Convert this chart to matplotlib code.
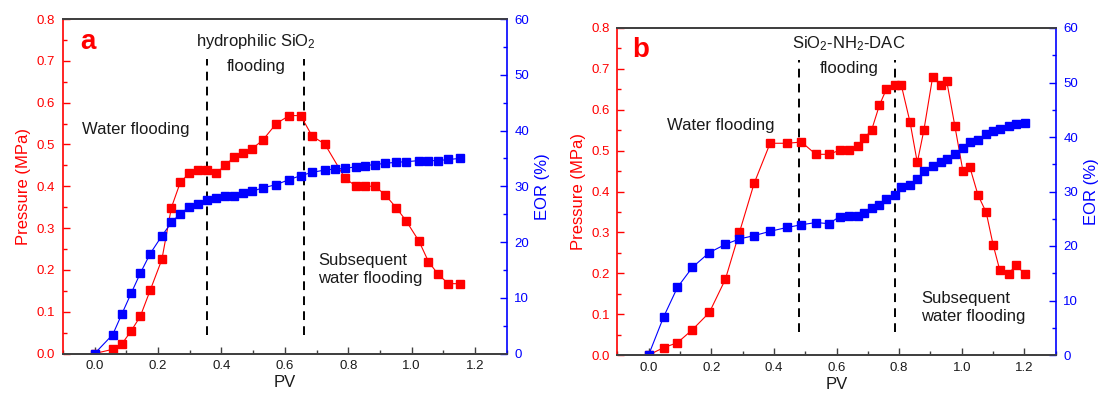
import matplotlib
matplotlib.use("Agg")
import matplotlib.pyplot as plt
from matplotlib.ticker import MultipleLocator

plt.rcParams['font.family'] = ['Liberation Sans', 'DejaVu Sans']
plt.rcParams['mathtext.default'] = 'regular'

# ---------------- Panel a data ----------------
pv_a_p = [0.0, 0.057, 0.085, 0.115, 0.144, 0.175, 0.212, 0.242, 0.270, 0.299, 0.327, 0.355,
          0.383, 0.411, 0.439, 0.468, 0.497, 0.530, 0.573, 0.614, 0.650, 0.686, 0.726, 0.790,
          0.825, 0.854, 0.884, 0.916, 0.951, 0.982, 1.023, 1.053, 1.084, 1.116, 1.154]
pressure_a = [0.0, 0.010, 0.022, 0.054, 0.089, 0.151, 0.225, 0.349, 0.409, 0.432, 0.440, 0.440,
              0.431, 0.450, 0.469, 0.479, 0.490, 0.510, 0.550, 0.569, 0.569, 0.520, 0.501, 0.419,
              0.400, 0.400, 0.400, 0.380, 0.349, 0.318, 0.269, 0.220, 0.189, 0.167, 0.167]
pv_a_e = [0.0, 0.057, 0.085, 0.115, 0.144, 0.175, 0.212, 0.242, 0.270, 0.299, 0.327, 0.355,
          0.383, 0.411, 0.439, 0.468, 0.497, 0.530, 0.573, 0.614, 0.650, 0.686, 0.726, 0.758,
          0.790, 0.825, 0.854, 0.884, 0.916, 0.951, 0.982, 1.023, 1.053, 1.084, 1.116, 1.154]
eor_a = [0.0, 3.4, 7.0, 10.8, 14.4, 17.9, 21.1, 23.5, 25.1, 26.3, 26.9, 27.5,
         27.9, 28.2, 28.3, 28.7, 29.1, 29.7, 30.3, 31.2, 31.9, 32.5, 32.9, 33.1,
         33.2, 33.5, 33.7, 33.9, 34.1, 34.3, 34.4, 34.6, 34.6, 34.6, 34.8, 35.0]
stage_a = [0.354, 0.659]

# ---------------- Panel b data ----------------
pv_b = [0.0, 0.048, 0.092, 0.140, 0.194, 0.245, 0.290, 0.337, 0.388, 0.442, 0.488, 0.534,
        0.576, 0.610, 0.641, 0.670, 0.689, 0.712, 0.737, 0.759, 0.786, 0.807, 0.835, 0.858,
        0.879, 0.907, 0.933, 0.952, 0.978, 1.004, 1.026, 1.052, 1.078, 1.100, 1.121, 1.150,
        1.172, 1.202]
pressure_b = [0.0, 0.018, 0.030, 0.062, 0.104, 0.185, 0.300, 0.420, 0.518, 0.518, 0.521, 0.491,
              0.491, 0.501, 0.501, 0.511, 0.531, 0.550, 0.611, 0.650, 0.660, 0.660, 0.569, 0.471,
              0.550, 0.680, 0.660, 0.670, 0.560, 0.449, 0.459, 0.391, 0.349, 0.270, 0.209, 0.199,
              0.219, 0.199]
eor_b = [0.0, 7.0, 12.4, 16.1, 18.8, 20.3, 21.3, 21.9, 22.7, 23.4, 23.9, 24.3,
         24.1, 25.4, 25.5, 25.5, 26.0, 27.0, 27.5, 28.7, 29.4, 30.8, 31.2, 32.3,
         33.7, 34.6, 35.5, 36.0, 36.8, 37.9, 39.1, 39.5, 40.5, 41.1, 41.5, 42.0,
         42.4, 42.6]
stage_b = [0.481, 0.786]

RED = '#ff0000'
BLUE = '#0000ff'
TXT = '#1a1a1a'
SPINE = '#404040'

fig = plt.figure(figsize=(10.99, 3.94), dpi=100)


def make_panel(rect, pv_p, pres, pv_e, eor, stages, dash_span, letter, letter_pos,
               texts):
    ax = fig.add_axes(rect)
    ax2 = ax.twinx()
    ax.plot(pv_p, pres, color=RED, lw=0.8, marker='s', ms=5.5, mec=RED, mfc=RED)
    ax2.plot(pv_e, eor, color=BLUE, lw=0.8, marker='s', ms=5.5, mec=BLUE, mfc=BLUE)
    ax.set_xlim(-0.1, 1.3)
    ax.set_ylim(0, 0.8)
    ax2.set_ylim(0, 60)
    ax.xaxis.set_major_locator(MultipleLocator(0.2))
    ax.xaxis.set_minor_locator(MultipleLocator(0.1))
    ax.yaxis.set_major_locator(MultipleLocator(0.1))
    ax.yaxis.set_minor_locator(MultipleLocator(0.05))
    ax2.yaxis.set_major_locator(MultipleLocator(10))
    ax2.yaxis.set_minor_locator(MultipleLocator(5))
    ax.set_xticks([0.0, 0.2, 0.4, 0.6, 0.8, 1.0, 1.2])
    ax.set_xticklabels(['0.0', '0.2', '0.4', '0.6', '0.8', '1.0', '1.2'])

    for a in (ax, ax2):
        for s in ('top', 'bottom'):
            a.spines[s].set_color(SPINE)
            a.spines[s].set_linewidth(1.3)
    ax.spines['left'].set_color(RED)
    ax.spines['left'].set_linewidth(1.2)
    ax2.spines['right'].set_color(BLUE)
    ax2.spines['right'].set_linewidth(1.2)
    ax.spines['right'].set_visible(False)
    ax2.spines['left'].set_visible(False)

    ax.tick_params(axis='x', which='major', direction='in', length=5, width=1,
                   color=SPINE, labelsize=9.5, pad=5, labelcolor=TXT)
    ax.tick_params(axis='x', which='minor', direction='in', length=3, width=1, color=SPINE)
    ax.tick_params(axis='y', which='major', direction='in', length=5, width=1,
                   color=RED, labelcolor=RED, labelsize=9.5, pad=5.5)
    ax.tick_params(axis='y', which='minor', direction='in', length=3, width=1, color=RED)
    ax2.tick_params(axis='y', which='major', direction='in', length=5, width=1,
                    color=BLUE, labelcolor=BLUE, labelsize=9.5, pad=5.5)
    ax2.tick_params(axis='y', which='minor', direction='in', length=3, width=1, color=BLUE)

    ax.set_xlabel('PV', fontsize=12, color=TXT, labelpad=2)
    ax.set_ylabel('Pressure (MPa)', fontsize=12, color=RED, labelpad=4)
    ax2.set_ylabel('EOR (%)', fontsize=12, color=BLUE, labelpad=4)

    for s in stages:
        ax.plot([s, s], dash_span, color='black', lw=1.4, ls=(0, (4.5, 3.2)), zorder=1)

    ax.text(letter_pos[0], letter_pos[1], letter, color=RED, fontsize=20,
            fontweight='bold', ha='center', va='center')
    for (x, y, s, ha) in texts:
        ax.text(x, y, s, fontsize=12, color=TXT, ha=ha, va='center', linespacing=1.25)
    return ax, ax2


make_panel([63 / 1099, 40.5 / 394, 443.7 / 1099, 334.5 / 394],
           pv_a_p, pressure_a, pv_a_e, eor_a, stage_a, [0.044, 0.705], 'a', (-0.02, 0.745),
           [(0.51, 0.746, 'hydrophilic SiO$_2$', 'center'),
            (0.51, 0.686, 'flooding', 'center'),
            (-0.04, 0.535, 'Water flooding', 'left'),
            (0.706, 0.200, 'Subsequent\nwater flooding', 'left')])

make_panel([617.3 / 1099, 39 / 394, 438.4 / 1099, 327 / 394],
           pv_b, pressure_b, pv_b, eor_b, stage_b, [0.057, 0.722], 'b', (-0.026, 0.746),
           [(0.64, 0.762, 'SiO$_2$-NH$_2$-DAC', 'center'),
            (0.64, 0.701, 'flooding', 'center'),
            (0.059, 0.562, 'Water flooding', 'left'),
            (0.871, 0.116, 'Subsequent\nwater flooding', 'left')])

fig.savefig('out.png', dpi=100)
